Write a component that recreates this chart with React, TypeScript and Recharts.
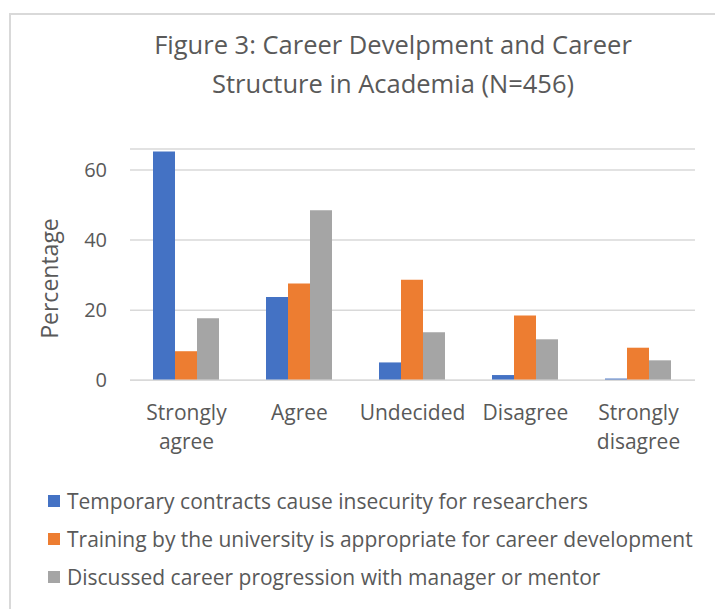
import React from 'react';
import { BarChart, Bar, XAxis, YAxis, CartesianGrid, Legend, Label } from 'recharts';

const categories = ['Strongly agree', 'Agree', 'Undecided', 'Disagree', 'Strongly disagree'];
const temporaryContracts = [65.3, 23.8, 5.1, 1.5, 0.5];
const trainingAppropriate = [8.3, 27.6, 28.7, 18.5, 9.3];
const discussedProgression = [17.7, 48.5, 13.7, 11.7, 5.7];
const yTicks = [0, 20, 40, 60];

const seriesNames = [
  'Temporary contracts cause insecurity for researchers',
  'Training by the university is appropriate for career development',
  'Discussed career progression with manager or mentor',
];
const seriesColors = ['#4472C4', '#ED7D31', '#A5A5A5'];

const data = categories.map((c, i) => ({
  category: c,
  a: temporaryContracts[i],
  b: trainingAppropriate[i],
  c: discussedProgression[i],
}));

const FONT = '"Open Sans", sans-serif';
const TXT = '#595959';

const XTick = (props: any) => {
  const { x, y, payload } = props;
  const label: string = payload.value;
  const lines = label.startsWith('Strongly') ? ['Strongly', label.slice(9)] : [label];
  return (
    <text x={x} y={y} textAnchor="middle" fill={TXT} fontFamily={FONT} fontSize={21}>
      {lines.map((l, i) => (
        <tspan key={i} x={x} dy={i === 0 ? 32 : 28.5}>
          {l}
        </tspan>
      ))}
    </text>
  );
};

const LegendContent = () => (
  <div style={{ fontFamily: FONT, fontSize: 21, color: TXT }}>
    {seriesNames.map((n, i) => (
      <div key={i} style={{ display: 'flex', alignItems: 'center', height: 38, whiteSpace: 'nowrap' }}>
        <span style={{ display: 'inline-block', width: 12, height: 12, background: seriesColors[i], marginRight: 7 }} />
        <span>{n}</span>
      </div>
    ))}
  </div>
);

export default function App() {
  return (
    <div style={{ position: 'absolute', left: 0, top: 0, width: 715, height: 609, overflow: 'hidden', background: '#fff' }}>
      <div style={{ position: 'absolute', left: 9, top: 13, width: 900, height: 900, border: '2px solid #D9D9D9', boxSizing: 'border-box' }} />
      <svg style={{ position: 'absolute', left: 0, top: 0 }} width={715} height={120}>
        <text x={393} y={53.5} textAnchor="middle" fill={TXT} fontFamily={FONT} fontSize={25.5}>
          Figure 3: Career Develpment and Career
        </text>
        <text x={393} y={92.7} textAnchor="middle" fill={TXT} fontFamily={FONT} fontSize={25.5}>
          Structure in Academia (N=456)
        </text>
      </svg>
      <div style={{ position: 'absolute', left: 0, top: 0 }}>
        <BarChart
          width={715}
          height={609}
          data={data}
          margin={{ top: 149, right: 20, left: 10, bottom: 158.7 }}
          barCategoryGap={23}
          barGap={0}
        >
          <CartesianGrid vertical={false} stroke="#D9D9D9" strokeWidth={1.5} />
          <XAxis
            dataKey="category"
            height={70}
            tickLine={false}
            axisLine={{ stroke: '#D9D9D9', strokeWidth: 1.5 }}
            tick={<XTick />}
            interval={0}
          />
          <YAxis
            width={120}
            domain={[0, 66]}
            ticks={yTicks}
            tickLine={false}
            axisLine={false}
            tickMargin={17}
            tick={{ fill: TXT, fontFamily: FONT, fontSize: 20 }}
          >
            <Label
              content={() => (
                <text
                  transform="translate(57.8,278.5) rotate(-90)"
                  textAnchor="middle"
                  fill={TXT}
                  fontFamily={FONT}
                  fontSize={23}
                >
                  Percentage
                </text>
              )}
            />
          </YAxis>
          <Legend
            layout="vertical"
            align="center"
            verticalAlign="middle"
            content={<LegendContent />}
            wrapperStyle={{ top: 481.7, left: 48, width: 667, height: 120 }}
          />
          <Bar dataKey="a" name={seriesNames[0]} fill={seriesColors[0]} isAnimationActive={false} />
          <Bar dataKey="b" name={seriesNames[1]} fill={seriesColors[1]} isAnimationActive={false} />
          <Bar dataKey="c" name={seriesNames[2]} fill={seriesColors[2]} isAnimationActive={false} />
        </BarChart>
      </div>
    </div>
  );
}
